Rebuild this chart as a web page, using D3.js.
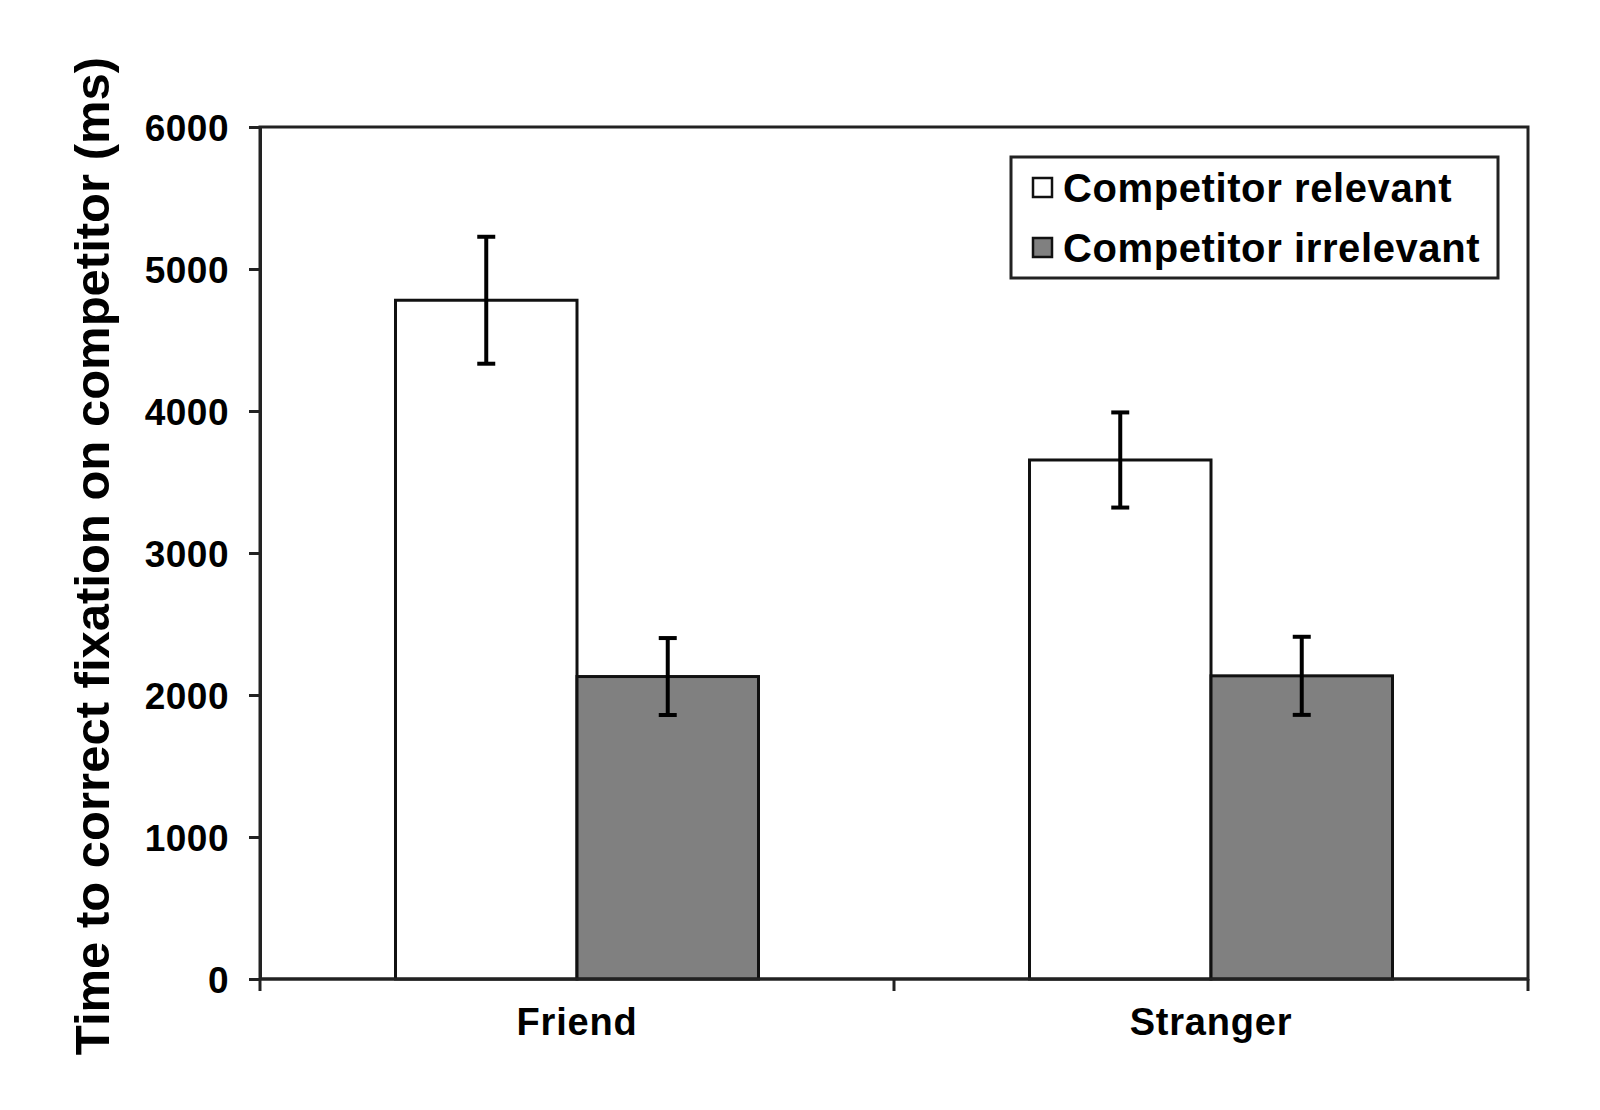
<html>

<head>
  <style>
    body {
      margin: 0;
      background: #fff;
    }

    text {
      font-family: "Liberation Sans", Arial, sans-serif;
      font-weight: bold;
      fill: #000;
    }

    .bar {
      stroke: #111;
      stroke-width: 3;
    }

    .err {
      stroke: #000;
      stroke-width: 4;
    }

    .frame {
      fill: none;
      stroke: #222;
      stroke-width: 3;
    }

    .axis path, .axis line {
      stroke: #222;
      stroke-width: 3;
    }
  </style>
</head>

<body>
<svg class="chart"></svg>
<script src="https://cdn.jsdelivr.net/npm/d3@7"></script>
<script>
    var categories = ["Friend", "Stranger"];
    var series = ["Competitor relevant", "Competitor irrelevant"];
    var colors = ["#ffffff", "#808080"];

    // mean time per category, one array per series
    var relevant = [4780, 3655];
    var irrelevant = [2130, 2135];
    // standard error, same order
    var relevantErr = [447, 335];
    var irrelevantErr = [271, 275];

    var yTicks = [0, 1000, 2000, 3000, 4000, 5000, 6000];

    var chart = d3.select(".chart")
      .attr("width", 1600)
      .attr("height", 1110);

    // plot box (window.top is taken, hence the names)
    var plotLeft = 260, plotRight = 1528, plotTop = 127, plotBottom = 979;

    var x = d3.scaleBand()
      .domain(categories)
      .range([plotLeft, plotRight]);

    var xInner = d3.scaleBand()
      .domain(series)
      .range([0, x.bandwidth()])
      .paddingOuter(0.7466);

    var y = d3.scaleLinear()
      .domain([0, 6000])
      .range([plotBottom, plotTop]);

    var rows = [];
    categories.forEach(function(c, i) {
      rows.push({cat: c, s: series[0], v: relevant[i], e: relevantErr[i], k: 0});
      rows.push({cat: c, s: series[1], v: irrelevant[i], e: irrelevantErr[i], k: 1});
    });

    // plot frame
    chart.append("rect")
      .attr("class", "frame")
      .attr("x", plotLeft)
      .attr("y", plotTop)
      .attr("width", plotRight - plotLeft)
      .attr("height", plotBottom - plotTop);

    chart.selectAll(".bar")
      .data(rows)
      .enter()
      .append("rect")
      .attr("class", "bar")
      .attr("x", function(d) { return x(d.cat) + xInner(d.s); })
      .attr("y", function(d) { return y(d.v); })
      .attr("width", xInner.bandwidth())
      .attr("height", function(d) { return y(0) - y(d.v); })
      .attr("fill", function(d) { return colors[d.k]; });

    var errs = chart.selectAll(".errg")
      .data(rows)
      .enter()
      .append("g")
      .attr("transform", function(d) {
        return "translate(" + (x(d.cat) + xInner(d.s) + xInner.bandwidth() / 2) + ",0)";
      });
    errs.append("line")
      .attr("class", "err")
      .attr("x1", 0).attr("x2", 0)
      .attr("y1", function(d) { return y(d.v + d.e); })
      .attr("y2", function(d) { return y(d.v - d.e); });
    errs.append("line")
      .attr("class", "err")
      .attr("x1", -9).attr("x2", 9)
      .attr("y1", function(d) { return y(d.v + d.e); })
      .attr("y2", function(d) { return y(d.v + d.e); });
    errs.append("line")
      .attr("class", "err")
      .attr("x1", -9).attr("x2", 9)
      .attr("y1", function(d) { return y(d.v - d.e); })
      .attr("y2", function(d) { return y(d.v - d.e); });

    // y axis
    var yAxis = chart.append("g")
      .attr("class", "axis")
      .attr("transform", "translate(" + plotLeft + ",0)")
      .call(d3.axisLeft(y).tickValues(yTicks).tickSize(11).tickSizeOuter(0).tickPadding(20).tickFormat(d3.format("d")));
    yAxis.selectAll("text")
      .style("font-size", "37px")
      .style("letter-spacing", "0.5px")
      .attr("dy", "0.36em");

    // x axis: ticks at the band edges, labels at the band centres
    var xAxis = chart.append("g")
      .attr("class", "axis")
      .attr("transform", "translate(0," + plotBottom + ")");
    xAxis.append("line")
      .attr("x1", plotLeft).attr("x2", plotRight);
    xAxis.selectAll(".xt")
      .data([plotLeft].concat(categories.map(function(c) { return x(c) + x.bandwidth(); })))
      .enter()
      .append("line")
      .attr("x1", function(d) { return d; })
      .attr("x2", function(d) { return d; })
      .attr("y1", 0)
      .attr("y2", 12);
    xAxis.selectAll(".xl")
      .data(categories)
      .enter()
      .append("text")
      .attr("x", function(d) { return x(d) + x.bandwidth() / 2; })
      .attr("y", 56)
      .attr("text-anchor", "middle")
      .style("font-size", "38px")
      .style("letter-spacing", "0.8px")
      .text(function(d) { return d; });

    chart.append("text")
      .attr("transform", "translate(109,556) rotate(-90)")
      .attr("text-anchor", "middle")
      .style("font-size", "49px")
      .text("Time to correct fixation on competitor (ms)");

    // legend
    var legend = chart.append("g")
      .attr("transform", "translate(1011,157)");
    legend.append("rect")
      .attr("class", "frame")
      .attr("width", 487)
      .attr("height", 121);
    var items = legend.selectAll(".item")
      .data(series)
      .enter()
      .append("g")
      .attr("transform", function(d, i) { return "translate(0," + (i * 60) + ")"; });
    items.append("rect")
      .attr("x", 22)
      .attr("y", 21)
      .attr("width", 19)
      .attr("height", 19)
      .attr("fill", function(d, i) { return colors[i]; })
      .attr("stroke", "#111")
      .attr("stroke-width", 2.5);
    items.append("text")
      .attr("x", 52)
      .attr("y", 45)
      .style("font-size", "40px")
      .style("letter-spacing", "0.6px")
      .text(function(d) { return d; });

</script>
</body>
</html>
